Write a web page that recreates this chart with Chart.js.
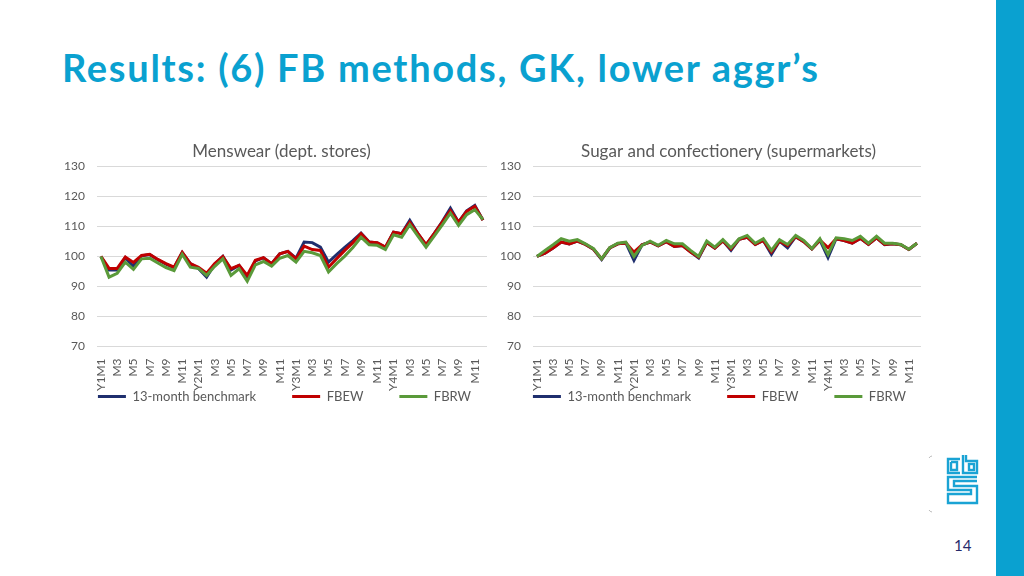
<!DOCTYPE html>
<html>
<head>
<meta charset="utf-8">
<script src="https://cdn.jsdelivr.net/npm/chart.js@4/dist/chart.umd.min.js"></script>
<style>
  html, body { margin: 0; padding: 0; background: #fff; }
  body { width: 1024px; height: 576px; position: relative; overflow: hidden; font-family: Lato, sans-serif; }
  #title { position: absolute; left: 62px; top: 48px; font-size: 38px; line-height: 38px; letter-spacing: 1.7px; font-weight: bold; color: #0aa1d0; white-space: nowrap; }
  #bar { position: absolute; left: 996px; top: 0; width: 28px; height: 576px; background: #0aa1d0; }
  #page { position: absolute; left: 954px; top: 536px; font-size: 15px; color: #262a6a; }
  #logo { position: absolute; left: 920px; top: 448px; }
  canvas { position: absolute; }
  #c1 { left: 40px; top: 137px; }
  #c2 { left: 476px; top: 137px; }
</style>
</head>
<body>
<div id="title">Results: (6) FB methods, GK, lower aggr’s</div>
<div id="bar"></div>
<svg id="logo" width="70" height="70" viewBox="0 0 70 70">
  <g fill="none" stroke="#1aa3d4" stroke-width="2.4">
    <polyline points="40,11 28,11 28,25 40,25"/>
    <polyline points="31,14 31,22 37,22 37,14 31,14"/>
    <polyline points="43,7 43,25 57,25 57,13 46,13 46,7"/>
    <rect x="49" y="16" width="5" height="6"/>
    <polyline points="57,29 28,29 28,42 51,42 51,46 28,46 28,55 57,55 57,38 34,38 34,33 57,33"/>
  </g>
  <path d="M12,8 a4,4 0 0 0 -3,2" stroke="#bbb" fill="none" stroke-width="1"/>
  <path d="M9,62 a4,4 0 0 0 3,2" stroke="#bbb" fill="none" stroke-width="1"/>
</svg>
<div id="page">14</div>
<canvas id="c1" width="462" height="274"></canvas>
<canvas id="c2" width="460" height="274"></canvas>
<script>
const months = [];
for (let y = 1; y <= 4; y++) {
  for (let m = 1; m <= 12; m++) months.push(m === 1 ? "Y" + y + "M1" : "M" + m);
}

const menswearBench = [100, 95.5, 95.5, 99.6, 96.7, 100.2, 100.6, 98.9, 97.4, 96.2, 101.3, 97.6,
  96, 93.1, 97.4, 100, 95.5, 97, 93.1, 98.5, 99.5, 97.6, 100.9, 101.7,
  99.4, 104.8, 104.6, 103.1, 98.1, 100.6, 103, 105.3, 107.8, 104.8, 104.5, 103,
  108.1, 107.6, 112, 107.6, 103.8, 107.6, 111.6, 116.1, 111.4, 115.2, 117, 112.1];
const menswearFBEW = [100, 96, 96, 99.8, 98, 100.3, 100.7, 99, 97.6, 96.4, 101.4, 97.6,
  96.4, 94.4, 97.6, 100, 95.9, 97, 93.7, 98.7, 99.6, 97.6, 100.9, 101.7,
  99.2, 103.4, 102.3, 102, 96.4, 99.2, 102, 104.6, 107.6, 104.8, 104.6, 103.1,
  108.1, 107.6, 111.4, 107.6, 103.9, 107.6, 111.4, 115.3, 111.4, 115, 116.7, 112.1];
const menswearFBRW = [100, 93.1, 94.4, 98.1, 95.7, 99.2, 99.4, 97.8, 96.3, 95.3, 100.7, 96.4,
  96, 93.7, 96.7, 99.2, 93.7, 95.9, 91.7, 97.2, 98.3, 96.8, 99.4, 100.3,
  98.1, 101.7, 101.2, 100.3, 94.8, 97.6, 100.1, 103, 106.4, 103.9, 103.7, 102.3,
  107.2, 106.4, 110.6, 106.8, 103.1, 106.8, 110.5, 114.4, 110.3, 113.9, 115.6, 112.3];

const sugarBench = [100, 101.1, 102.8, 104.8, 104.2, 105.1, 104, 102.4, 99, 102.8, 104.2, 104.5,
  98.7, 103.9, 104.8, 103.5, 104.9, 103.3, 103.6, 101.5, 99.5, 104.6, 102.8, 105.2,
  102, 105.7, 106.4, 104, 105.3, 100.7, 105.1, 102.9, 106.6, 104.9, 102.5, 105.4,
  99.6, 105.9, 105.3, 104.4, 106, 104, 106.2, 103.9, 104.2, 103.9, 102.3, 104.4];
const sugarFBEW = [100, 101.1, 102.8, 104.8, 104.2, 105.1, 104, 102.4, 99.2, 102.8, 104.2, 104.5,
  101.4, 103.9, 104.8, 103.5, 104.9, 103.3, 103.6, 101.5, 99.8, 104.6, 102.8, 105.2,
  102.5, 105.7, 106.4, 104, 105.3, 101.5, 105.1, 103.6, 106.6, 104.9, 102.5, 105.4,
  102.9, 105.9, 105.3, 104.4, 106, 104, 106.2, 104, 104.2, 103.9, 102.3, 104.4];
const sugarFBRW = [100, 102, 103.9, 105.9, 105.1, 105.6, 104.2, 102.6, 99.2, 102.9, 104.4, 104.8,
  100, 103.7, 105.1, 103.7, 105.3, 104.2, 104.2, 102, 100, 105.1, 103.1, 105.6,
  102.9, 105.9, 107, 104.4, 105.9, 102, 105.6, 104, 107, 105.3, 102.6, 105.9,
  100.7, 106.2, 105.9, 105.3, 106.7, 104.4, 106.7, 104.4, 104.4, 104, 102.4, 104.4];

const seriesNames = ["13-month benchmark", "FBEW", "FBRW"];
const seriesColors = ["#1f2f6e", "#c00000", "#5a9a3a"];
const textColor = "#595959";
const LEGEND_GAP = 36;

// Excel-like legend: wide gaps between items but no big vertical padding,
// plus a small horizontal nudge for title/legend (Excel centres them differently)
const excelLook = {
  id: "excelLook",
  beforeInit(chart){
    const lg = chart.legend, tt = chart.titleBlock;
    const fit = lg.fit, lgDraw = lg.draw, ttDraw = tt.draw;
    lg.fit = function(){
      const mw = this.maxWidth;
      this.maxWidth = mw + 80;
      fit.call(this);
      this.maxWidth = mw;
      this.width = mw;
      this.height = 16;
    };
    lg.draw = function(){
      const o = chart.options.plugins.excelLook;
      const box = { top: this.top, left: this.left, right: this.right };
      this.top -= LEGEND_GAP + 5;
      this.left += o.legendDx - 100;
      this.right += o.legendDx + 100;
      lgDraw.call(this);
      Object.assign(this, box);
    };
    tt.draw = function(){
      const o = chart.options.plugins.excelLook;
      this.ctx.save();
      this.ctx.translate(o.titleDx, 0);
      ttDraw.call(this);
      this.ctx.restore();
    };
  }
};

function draw(id, title, values, titleDx, legendDx){
  const ctx = document.getElementById(id).getContext("2d");
  const datasets = values.map((data, i) => ({
    label: seriesNames[i],
    data,
    borderColor: seriesColors[i],
    backgroundColor: seriesColors[i],
    borderWidth: 3,
    pointRadius: 0,
    tension: 0,
    order: 2 - i   // FBRW on top, like the original
  }));
  return new Chart(ctx, {
    type: "line",
    data: { labels: months, datasets },
    plugins: [excelLook],
    options: {
      responsive: false, animation: false,
      layout: { padding: { left: 12, right: 15, top: 0, bottom: 0 } },
      plugins: {
        excelLook: { titleDx, legendDx },
        title: { display: true, text: title, color: textColor,
                 font: { family: "Lato", size: 17, weight: "normal" }, padding: { top: 4, bottom: 5 } },
        legend: {
          position: "bottom",
          labels: {
            color: textColor, font: { family: "Lato", size: 13 },
            usePointStyle: true, pointStyle: "line", pointStyleWidth: 28, padding: LEGEND_GAP,
            sort: (a, b) => a.datasetIndex - b.datasetIndex
          }
        },
        tooltip: { enabled: false }
      },
      scales: {
        x: {
          offset: true,
          grid: { display: false }, border: { display: false },
          ticks: {
            autoSkip: false, maxRotation: 90, minRotation: 90, padding: 4,
            color: textColor, font: { family: "Lato", size: 12 },
            callback(v, i){ return i % 2 === 0 ? this.getLabelForValue(v) : ""; }
          }
        },
        y: {
          min: 70, max: 130,
          grid: { color: "#d9d9d9", drawTicks: false }, border: { display: false },
          ticks: { stepSize: 10, autoSkip: false, padding: 12, color: textColor, font: { family: "Lato", size: 12 } }
        }
      }
    }
  });
}

draw("c1", "Menswear (dept. stores)", [menswearBench, menswearFBEW, menswearFBRW], 12, 15);
draw("c2", "Sugar and confectionery (supermarkets)", [sugarBench, sugarFBEW, sugarFBRW], 24, 15);
</script>
</body>
</html>
